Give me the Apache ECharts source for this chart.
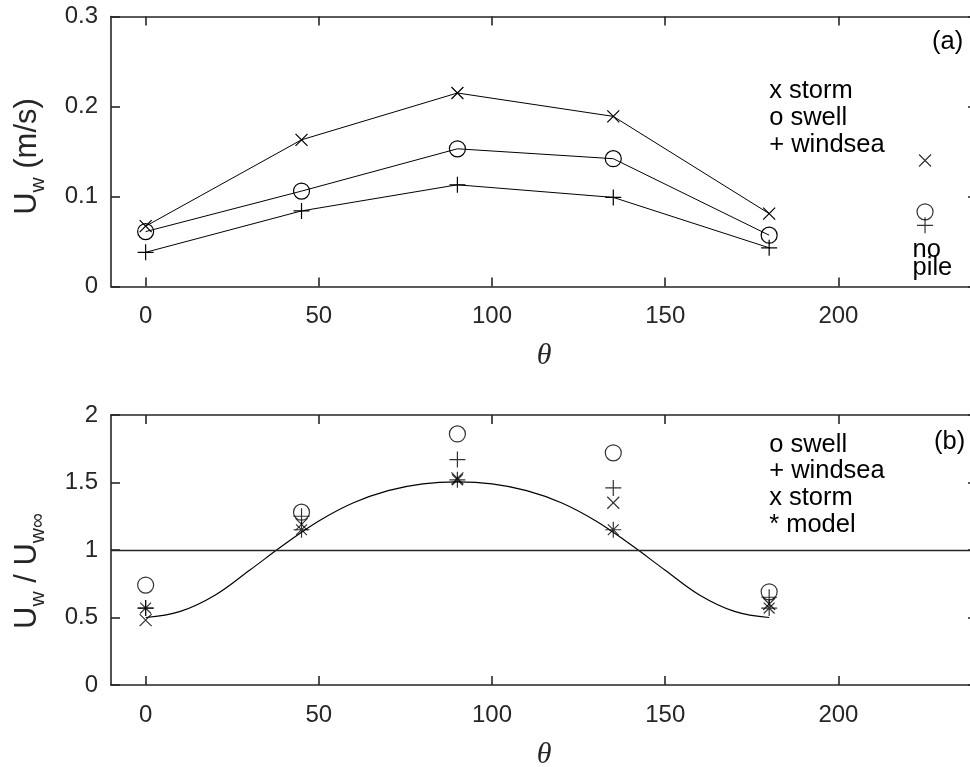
<!DOCTYPE html>
<html><head><meta charset="utf-8">
<script src="https://cdn.jsdelivr.net/npm/echarts@6/dist/echarts.min.js"></script>
<style>html,body{margin:0;padding:0;background:#fff}#c{width:970px;height:767px}</style>
</head><body><div id="c"></div>
<script>
// ---- data ----
const theta = [0, 45, 90, 135, 180];
const thetaNoPile = 225;
const thetaTicks = [0, 50, 100, 150, 200];
const uwTicks = [0, 0.1, 0.2, 0.3];
const ratioTicks = [0, 0.5, 1, 1.5, 2];

// panel (a): Uw (m/s)
const uwStorm   = [0.067, 0.163, 0.215, 0.189, 0.081];
const uwSwell   = [0.061, 0.106, 0.153, 0.142, 0.057];
const uwWindsea = [0.038, 0.084, 0.113, 0.099, 0.043];
const uwNoPileStorm = 0.140;
const uwNoPileSwell = 0.083;
const uwNoPileWindsea = 0.068;

// panel (b): Uw / Uw_inf
const ratioSwell   = [0.74, 1.28, 1.86, 1.72, 0.69];
const ratioWindsea = [0.57, 1.25, 1.67, 1.46, 0.65];
const ratioStorm   = [0.48, 1.19, 1.53, 1.35, 0.60];
const ratioModel   = [0.57, 1.15, 1.52, 1.15, 0.57];
const curveTheta = [0, 10, 20, 30, 40, 50, 60, 70, 80, 90, 100, 110, 120, 130, 140, 150, 160, 170, 180];
const curveRatio = [0.50, 0.545, 0.665, 0.85, 1.04, 1.215, 1.35, 1.44, 1.49, 1.505, 1.49, 1.44, 1.35, 1.215, 1.04, 0.85, 0.665, 0.545, 0.50];
const refLevel = 1;

// ---- helpers ----
const zip = (xs, ys) => xs.map((x, i) => [x, ys[i]]);
const SYM_X = 'path://M0,0L10,10M10,0L0,10';
const SYM_PLUS = 'path://M5,0L5,10M0,5L10,5';
const SYM_STAR = 'path://M5,0L5,10M0,5L10,5M1.6,1.6L8.4,8.4M8.4,1.6L1.6,8.4';
const AX = '#262626';
const markStyle = {color: 'transparent', borderColor: '#000', borderWidth: 1.2};
const sizes = {x: 12, o: 16, p: 16, s: 16};

function xAx(gi, pos, withName) {
  return {
    type: 'value', gridIndex: gi, position: pos, min: -10, max: 240,
    axisLine: {onZero: false, lineStyle: {color: AX, width: 1.6}},
    axisTick: {inside: true, length: 9, lineStyle: {color: AX, width: 1.6}, customValues: thetaTicks},
    axisLabel: {show: pos === 'bottom', customValues: thetaTicks, color: AX, fontFamily: 'Liberation Sans', fontSize: 24, margin: 18},
    splitLine: {show: false},
    name: withName ? 'θ' : '', nameLocation: 'middle', nameGap: 55,
    nameTextStyle: {fontFamily: 'Liberation Serif', fontStyle: 'italic', fontSize: 30, color: AX}
  };
}
function yAx(gi, pos, max, ticks, name, pad) {
  return {
    type: 'value', gridIndex: gi, position: pos, min: 0, max: max,
    axisLine: {onZero: false, lineStyle: {color: AX, width: 1.6}},
    axisTick: {inside: true, length: 9, lineStyle: {color: AX, width: 1.6}, customValues: ticks},
    axisLabel: {show: pos === 'left', customValues: ticks, color: AX, fontFamily: 'Liberation Sans', fontSize: 24, margin: 13},
    splitLine: {show: false},
    name: name || '', nameLocation: 'middle', nameRotate: 90, nameGap: 62,
    nameTextStyle: {
      fontFamily: 'Liberation Sans', fontSize: 31, color: AX, lineHeight: 44,
      padding: pad || 0,
      rich: {
        n: {fontFamily: 'Liberation Sans', fontSize: 31, color: AX, lineHeight: 44},
        s: {fontFamily: 'Liberation Sans', fontSize: 21, color: AX, lineHeight: 21, verticalAlign: 'bottom'}
      }
    }
  };
}
function lineSer(xs, ys, sym, size) {
  return {type: 'line', xAxisIndex: 0, yAxisIndex: 0, data: zip(xs, ys), symbol: sym, symbolSize: size,
    showAllSymbol: true, lineStyle: {color: '#000', width: 1}, itemStyle: markStyle, emphasis: {disabled: true}, z: 3};
}
function scatSer(ax, xs, ys, sym, size) {
  return {type: 'scatter', xAxisIndex: ax, yAxisIndex: ax, data: zip(xs, ys), symbol: sym, symbolSize: size,
    itemStyle: markStyle, emphasis: {disabled: true}, z: 4};
}

const option = {
  animation: false,
  backgroundColor: '#fff',
  grid: [
    {left: 111, top: 16.5, width: 866, height: 270, containLabel: false, outerBoundsMode: 'none'},
    {left: 111, top: 415, width: 866, height: 270, containLabel: false, outerBoundsMode: 'none'}
  ],
  xAxis: [xAx(0, 'bottom', true), xAx(0, 'top', false), xAx(1, 'bottom', true), xAx(1, 'top', false)],
  yAxis: [
    yAx(0, 'left', 0.3, uwTicks, '{n|U}{s|w} (m/s)', [0, 10, 0, 0]), yAx(0, 'right', 0.3, uwTicks),
    yAx(1, 'left', 2, ratioTicks, '{n|U}{s|w} / {n|U}{s|w∞}', [0, 42, 0, 0]), yAx(1, 'right', 2, ratioTicks)
  ],
  series: [
    lineSer(theta, uwStorm, SYM_X, sizes.x),
    lineSer(theta, uwSwell, 'circle', sizes.o),
    lineSer(theta, uwWindsea, SYM_PLUS, sizes.p),
    scatSer(0, [thetaNoPile], [uwNoPileStorm], SYM_X, sizes.x),
    scatSer(0, [thetaNoPile], [uwNoPileSwell], 'circle', sizes.o),
    scatSer(0, [thetaNoPile], [uwNoPileWindsea], SYM_PLUS, sizes.p),
    {type: 'line', xAxisIndex: 2, yAxisIndex: 2, data: zip(curveTheta, curveRatio), smooth: 0.4,
      showSymbol: false, lineStyle: {color: '#000', width: 1.2}, emphasis: {disabled: true}, z: 2,
      markLine: {silent: true, symbol: 'none', label: {show: false}, lineStyle: {color: AX, width: 1.4, type: 'solid'},
        data: [{yAxis: refLevel}]}},
    scatSer(2, theta, ratioSwell, 'circle', sizes.o),
    scatSer(2, theta, ratioWindsea, SYM_PLUS, sizes.p),
    scatSer(2, theta, ratioStorm, SYM_X, sizes.x),
    scatSer(2, theta, ratioModel, SYM_STAR, sizes.s)
  ]
};

const chart = echarts.init(document.getElementById('c'), null, {renderer: 'canvas'});
chart.setOption(option);

// annotations anchored in data coordinates
const notes = [
  {ax: 0, x: 236.0, y: 0.272, t: '(a)', a: 'right'},
  {ax: 0, x: 180.0, y: 0.217, t: 'x storm', a: 'left'},
  {ax: 0, x: 180.0, y: 0.1874, t: 'o swell', a: 'left'},
  {ax: 0, x: 180.0, y: 0.1578, t: '+ windsea', a: 'left'},
  {ax: 0, x: 221.4, y: 0.0405, t: 'no', a: 'left'},
  {ax: 0, x: 221.4, y: 0.0205, t: 'pile', a: 'left'},
  {ax: 2, x: 236.6, y: 1.80, t: '(b)', a: 'right'},
  {ax: 2, x: 180.0, y: 1.78, t: 'o swell', a: 'left'},
  {ax: 2, x: 180.0, y: 1.582, t: '+ windsea', a: 'left'},
  {ax: 2, x: 180.0, y: 1.384, t: 'x storm', a: 'left'},
  {ax: 2, x: 180.0, y: 1.186, t: '* model', a: 'left'}
];
chart.setOption({
  graphic: notes.map(n => {
    const p = chart.convertToPixel({xAxisIndex: n.ax, yAxisIndex: n.ax}, [n.x, n.y]);
    return {type: 'text', x: p[0], y: p[1], silent: true, z: 10,
      style: {text: n.t, fill: '#000', fontFamily: 'Liberation Sans', fontSize: 25.5,
        align: n.a, textAlign: n.a, verticalAlign: 'middle', textVerticalAlign: 'middle'}};
  })
});
</script></body></html>
